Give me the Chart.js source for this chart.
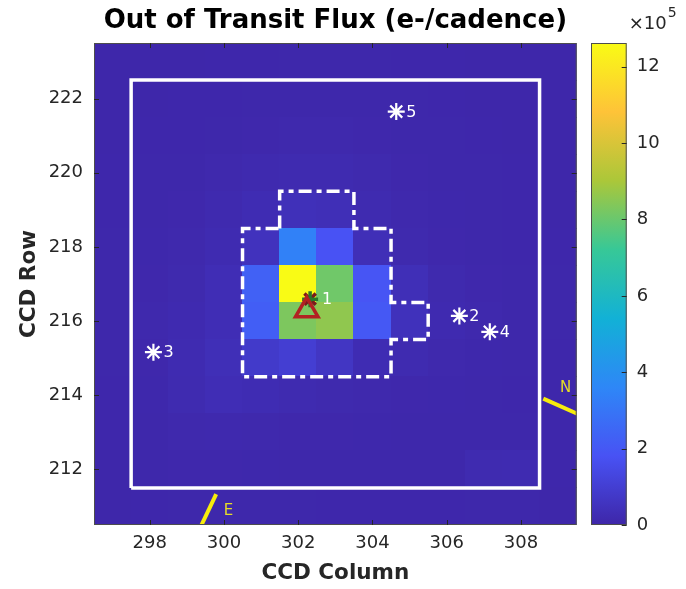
<!DOCTYPE html>
<html>
<head>
<meta charset="utf-8">
<script src="https://cdn.jsdelivr.net/npm/chart.js@4.4.1/dist/chart.umd.min.js"></script>
<style>
  html, body { margin: 0; padding: 0; background: #fff; }
  #wrap { width: 686px; height: 589px; position: relative; }
</style>
</head>
<body>
<div id="wrap"><canvas id="myChart"></canvas></div>
<script>
// pixel grid (CCD columns / rows), flux in units of 1e5 e-/cadence
const columns = [297, 298, 299, 300, 301, 302, 303, 304, 305, 306, 307, 308, 309];
const rows = [223, 222, 221, 220, 219, 218, 217, 216, 215, 214, 213, 212, 211];
const flux = [
  [0.05, 0.05, 0.05, 0.06, 0.06, 0.07, 0.07, 0.07, 0.06, 0.06, 0.05, 0.05, 0.05],
  [0.05, 0.05, 0.06, 0.06, 0.07, 0.08, 0.08, 0.07, 0.07, 0.06, 0.05, 0.05, 0.05],
  [0.05, 0.06, 0.06, 0.08, 0.10, 0.12, 0.12, 0.10, 0.08, 0.07, 0.06, 0.05, 0.05],
  [0.06, 0.07, 0.08, 0.12, 0.16, 0.20, 0.20, 0.15, 0.10, 0.08, 0.07, 0.06, 0.05],
  [0.06, 0.08, 0.10, 0.16, 0.25, 0.40, 0.35, 0.20, 0.12, 0.09, 0.07, 0.06, 0.05],
  [0.07, 0.09, 0.12, 0.22, 0.50, 3.40, 1.80, 0.35, 0.15, 0.10, 0.08, 0.06, 0.06],
  [0.08, 0.10, 0.15, 0.30, 2.30, 12.62, 8.10, 1.90, 0.35, 0.15, 0.10, 0.08, 0.07],
  [0.08, 0.11, 0.18, 0.30, 2.20, 8.30, 8.60, 2.00, 0.45, 0.18, 0.11, 0.08, 0.07],
  [0.07, 0.10, 0.22, 0.35, 0.80, 1.00, 0.65, 0.25, 0.20, 0.12, 0.09, 0.07, 0.06],
  [0.06, 0.09, 0.20, 0.30, 0.25, 0.20, 0.15, 0.12, 0.10, 0.09, 0.08, 0.06, 0.06],
  [0.06, 0.08, 0.12, 0.14, 0.12, 0.10, 0.10, 0.09, 0.08, 0.07, 0.07, 0.07, 0.06],
  [0.05, 0.07, 0.10, 0.10, 0.09, 0.08, 0.08, 0.07, 0.07, 0.07, 0.20, 0.22, 0.06],
  [0.05, 0.06, 0.07, 0.07, 0.07, 0.07, 0.06, 0.06, 0.06, 0.06, 0.08, 0.08, 0.05]
];
const fluxMax = 12.62;

const xTicks = [298, 300, 302, 304, 306, 308];
const yTicks = [212, 214, 216, 218, 220, 222];
const cbTicks = [0, 2, 4, 6, 8, 10, 12];

// catalogue stars
const starIds = ["1", "2", "3", "4", "5"];
const starX = [302.32, 306.34, 298.10, 307.16, 304.64];
const starY = [216.59, 216.14, 215.16, 215.71, 221.65];
const centroidX = [302.23];
const centroidY = [216.29];

// apertures
const frameX = [297.5, 297.5, 308.5, 308.5, 297.5];
const frameY = [211.5, 222.5, 222.5, 211.5, 211.5];
const apertureX = [301.5, 301.5, 303.5, 303.5, 304.5, 304.5, 305.5, 305.5, 304.5, 304.5, 300.5, 300.5, 301.5];
const apertureY = [218.5, 219.5, 219.5, 218.5, 218.5, 216.5, 216.5, 215.5, 215.5, 214.5, 214.5, 218.5, 218.5];

// compass arrows
const northX = [308.6, 309.7];
const northY = [213.91, 213.42];
const eastX = [299.79, 299.3];
const eastY = [211.33, 210.3];
const compassLabels = ["N", "E"];
const compassLabelX = [309.2, 300.12];
const compassLabelY = [214.2, 210.88];

const pts = (xs, ys) => xs.map((v, i) => ({ x: v, y: ys[i] }));

// parula, 8 anchors
const parulaStops = [
  [62, 38, 168], [72, 82, 244], [46, 135, 247], [18, 177, 214],
  [55, 200, 151], [171, 199, 57], [254, 195, 56], [249, 251, 21]
];
function parula(t) {
  t = Math.min(1, Math.max(0, t));
  const p = t * (parulaStops.length - 1);
  const i = Math.min(parulaStops.length - 2, Math.floor(p));
  const f = p - i;
  const a = parulaStops[i], b = parulaStops[i + 1];
  const c = a.map((v, k) => Math.round(v + (b[k] - v) * f));
  return `rgb(${c[0]}, ${c[1]}, ${c[2]})`;
}

const heatmapPlugin = {
  id: "heatmap",
  beforeDatasetsDraw(chart) {
    const { ctx, chartArea: a, scales: { x, y } } = chart;
    ctx.save();
    ctx.beginPath();
    ctx.rect(a.left, a.top, a.right - a.left, a.bottom - a.top);
    ctx.clip();
    rows.forEach((row, i) => {
      columns.forEach((col, j) => {
        const x0 = Math.floor(x.getPixelForValue(col - 0.5));
        const x1 = Math.ceil(x.getPixelForValue(col + 0.5));
        const y0 = Math.floor(y.getPixelForValue(row + 0.5));
        const y1 = Math.ceil(y.getPixelForValue(row - 0.5));
        ctx.fillStyle = parula(flux[i][j] / fluxMax);
        ctx.fillRect(x0, y0, x1 - x0, y1 - y0);
      });
    });
    ctx.restore();
  }
};

const labelsPlugin = {
  id: "labels",
  afterDatasetsDraw(chart) {
    const { ctx, chartArea: a, scales: { x, y } } = chart;
    ctx.save();
    ctx.beginPath();
    ctx.rect(a.left, a.top, a.right - a.left, a.bottom - a.top);
    ctx.clip();
    ctx.font = "16px 'DejaVu Sans'";
    ctx.fillStyle = "#ffffff";
    ctx.textAlign = "left";
    ctx.textBaseline = "middle";
    starIds.forEach((id, i) => {
      const off = i === 0 ? 12 : 10;
      ctx.fillText(id, x.getPixelForValue(starX[i]) + off, y.getPixelForValue(starY[i]) + 1);
    });
    ctx.font = "15px 'DejaVu Sans'";
    ctx.fillStyle = "#e6dc28";
    ctx.textAlign = "center";
    compassLabels.forEach((t, i) => {
      ctx.fillText(t, x.getPixelForValue(compassLabelX[i]), y.getPixelForValue(compassLabelY[i]));
    });
    ctx.restore();
  }
};

const framePlugin = {
  id: "frame",
  afterDraw(chart) {
    const { ctx, chartArea: a, scales: { x, y, cb } } = chart;
    ctx.save();
    // axes box with inward ticks
    ctx.strokeStyle = "#4d4d4d";
    ctx.lineWidth = 1;
    ctx.strokeRect(a.left + 0.5, a.top + 0.5, a.right - a.left - 1, a.bottom - a.top - 1);
    ctx.strokeStyle = "#262626";
    ctx.beginPath();
    xTicks.forEach(v => {
      const px = Math.round(x.getPixelForValue(v)) + 0.5;
      ctx.moveTo(px, a.bottom); ctx.lineTo(px, a.bottom - 5);
      ctx.moveTo(px, a.top); ctx.lineTo(px, a.top + 5);
    });
    yTicks.forEach(v => {
      const py = Math.round(y.getPixelForValue(v)) + 0.5;
      ctx.moveTo(a.left, py); ctx.lineTo(a.left + 5, py);
      ctx.moveTo(a.right, py); ctx.lineTo(a.right - 5, py);
    });
    ctx.stroke();

    // colorbar
    const cbLeft = a.right + 14.3, cbRight = a.right + 50;
    const yTop = cb.getPixelForValue(fluxMax), yBot = cb.getPixelForValue(0);
    const g = ctx.createLinearGradient(0, yBot, 0, yTop);
    parulaStops.forEach((c, i) => g.addColorStop(i / (parulaStops.length - 1), `rgb(${c[0]}, ${c[1]}, ${c[2]})`));
    ctx.fillStyle = g;
    ctx.fillRect(cbLeft, yTop, cbRight - cbLeft, yBot - yTop);
    ctx.strokeStyle = "#4d4d4d";
    ctx.strokeRect(cbLeft + 0.5, yTop + 0.5, cbRight - cbLeft - 1, yBot - yTop - 1);
    ctx.strokeStyle = "#262626";
    ctx.beginPath();
    cbTicks.forEach(v => {
      const py = Math.round(cb.getPixelForValue(v)) + 0.5;
      ctx.moveTo(cbRight, py); ctx.lineTo(cbRight - 5, py);
    });
    ctx.stroke();

    // exponent
    ctx.fillStyle = "#262626";
    ctx.textAlign = "left";
    ctx.textBaseline = "middle";
    ctx.font = "18px 'DejaVu Sans'";
    const base = "\u00d710";
    ctx.fillText(base, cbRight + 2, 24);
    const w = ctx.measureText(base).width;
    ctx.font = "14px 'DejaVu Sans'";
    ctx.fillText("5", cbRight + 3 + w, 13);

    // title
    ctx.fillStyle = "#000000";
    ctx.textAlign = "center";
    ctx.font = "bold 26px 'DejaVu Sans'";
    ctx.fillText("Out of Transit Flux (e-/cadence)", (a.left + a.right) / 2, 21);
    ctx.restore();
  }
};

Chart.defaults.font.family = "'DejaVu Sans', sans-serif";

const noScalePadding = s => {
  s.paddingTop = 0; s.paddingBottom = 0; s.paddingLeft = 0; s.paddingRight = 0;
};

const ctx = document.getElementById("myChart").getContext("2d");
const myChart = new Chart(ctx, {
  type: "scatter",
  plugins: [heatmapPlugin, labelsPlugin, framePlugin],
  data: {
    datasets: [
      {
        label: "Centroid",
        data: pts(centroidX, centroidY),
        pointStyle: "triangle",
        pointRadius: 13,
        borderWidth: 3.5,
        borderColor: "#b22222",
        backgroundColor: "rgba(0,0,0,0)"
      },
      {
        label: "Target",
        data: pts(starX.slice(0, 1), starY.slice(0, 1)),
        pointStyle: "cross",
        pointRadius: 8,
        borderWidth: 3.5,
        borderColor: "#27782a",
        backgroundColor: "#27782a"
      },
      {
        label: "Target diag",
        data: pts(starX.slice(0, 1), starY.slice(0, 1)),
        pointStyle: "crossRot",
        pointRadius: 8,
        borderWidth: 3.5,
        borderColor: "#7a1c1c",
        backgroundColor: "#7a1c1c"
      },
      {
        label: "Neighbours",
        data: pts(starX.slice(1), starY.slice(1)),
        pointStyle: "star",
        pointRadius: 8.5,
        borderWidth: 2.2,
        borderColor: "#ffffff",
        backgroundColor: "#ffffff"
      },
      {
        label: "Optimal aperture",
        data: pts(apertureX, apertureY),
        showLine: true,
        pointRadius: 0,
        borderColor: "#ffffff",
        borderWidth: 3.5,
        borderDash: [13, 5, 5, 5],
        clip: 0
      },
      {
        label: "Mask",
        data: pts(frameX, frameY),
        showLine: true,
        pointRadius: 0,
        borderColor: "#ffffff",
        borderWidth: 3.5,
        clip: 0
      },
      {
        label: "North",
        data: pts(northX, northY),
        showLine: true,
        pointRadius: 0,
        borderColor: "#f7ec0c",
        borderWidth: 4,
        clip: 0
      },
      {
        label: "East",
        data: pts(eastX, eastY),
        showLine: true,
        pointRadius: 0,
        borderColor: "#f7ec0c",
        borderWidth: 4,
        clip: 0
      }
    ]
  },
  options: {
    responsive: true,
    maintainAspectRatio: false,
    animation: false,
    layout: { padding: { top: 43, left: 0, right: 0, bottom: 0 } },
    plugins: {
      legend: { display: false },
      tooltip: { enabled: false },
      title: { display: false }
    },
    scales: {
      x: {
        type: "linear",
        position: "bottom",
        min: 296.5,
        max: 309.5,
        grid: { display: false, drawTicks: false },
        border: { display: false },
        afterBuildTicks: s => { s.ticks = xTicks.map(v => ({ value: v })); },
        afterFit: s => { s.height = 64; noScalePadding(s); },
        ticks: { padding: 8, color: "#262626", font: { size: 18 }, autoSkip: false, maxRotation: 0 },
        title: { display: true, text: "CCD Column", color: "#262626", font: { size: 21.5, weight: "bold" }, padding: { top: 0, bottom: 3 } }
      },
      y: {
        type: "linear",
        position: "left",
        min: 210.5,
        max: 223.5,
        grid: { display: false, drawTicks: false },
        border: { display: false },
        afterBuildTicks: s => { s.ticks = yTicks.map(v => ({ value: v })); },
        afterFit: s => { s.width = 94; noScalePadding(s); },
        ticks: { padding: 11, color: "#262626", font: { size: 18 }, autoSkip: false },
        title: { display: true, text: "CCD Row", color: "#262626", font: { size: 21.5, weight: "bold" }, padding: { top: 17, bottom: 0 } }
      },
      cb: {
        type: "linear",
        position: "right",
        min: 0,
        max: fluxMax,
        grid: { display: false, drawTicks: false },
        border: { display: false },
        afterBuildTicks: s => { s.ticks = cbTicks.map(v => ({ value: v })); },
        afterFit: s => { s.width = 109.3; noScalePadding(s); },
        ticks: { padding: 60, color: "#262626", font: { size: 18 }, autoSkip: false }
      }
    }
  }
});
</script>
</body>
</html>
